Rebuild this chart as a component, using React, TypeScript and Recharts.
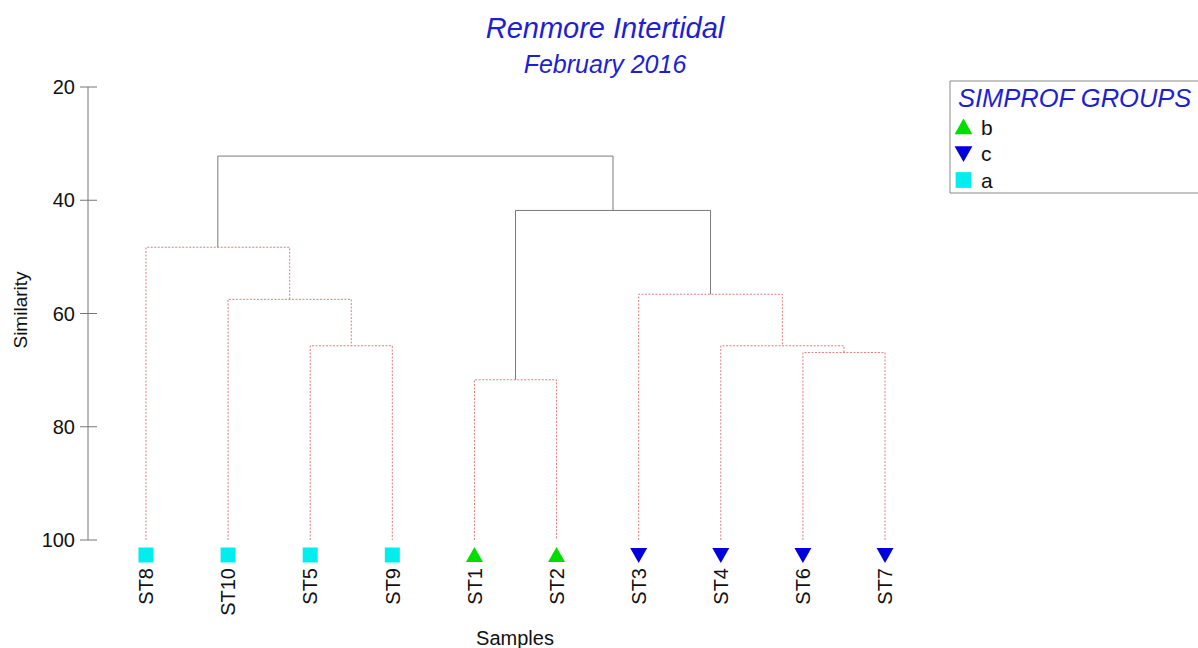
import { ComposedChart, Line, Scatter, XAxis, YAxis } from 'recharts';

// leaf order as drawn left to right
const leaves = ['ST8', 'ST10', 'ST5', 'ST9', 'ST1', 'ST2', 'ST3', 'ST4', 'ST6', 'ST7'];
const leafGroups = ['a', 'a', 'a', 'a', 'b', 'b', 'c', 'c', 'c', 'c'];

// merges: node ids 0-9 are leaves, merge k becomes node 10+k
const mergeLeft = [2, 1, 0, 4, 8, 7, 6, 13, 12];
const mergeRight = [3, 10, 11, 5, 9, 14, 15, 16, 17];
const mergeHeights = [65.7, 57.5, 48.3, 71.7, 66.9, 65.7, 56.6, 41.8, 32.2];
const mergeSignificant = [false, false, false, false, false, false, false, true, true];

const yTicks = [20, 40, 60, 80, 100];
const legendGroups = ['b', 'c', 'a'];

const groupColor: Record<string, string> = { a: '#00eeee', b: '#00dd00', c: '#0000dd' };
const FONT = '"Liberation Sans", Arial, sans-serif';
const TITLE_BLUE = '#1e1ed2';

// build node positions from the tree
const nodeX: number[] = leaves.map((_, i) => i);
const nodeH: number[] = leaves.map(() => 100);
mergeHeights.forEach((h, k) => {
  nodeX.push((nodeX[mergeLeft[k]] + nodeX[mergeRight[k]]) / 2);
  nodeH.push(h);
});

const segments = mergeHeights.map((h, k) => {
  const l = mergeLeft[k];
  const r = mergeRight[k];
  return [
    { x: nodeX[l], y: nodeH[l] },
    { x: nodeX[l], y: h },
    { x: nodeX[r], y: h },
    { x: nodeX[r], y: nodeH[r] },
  ];
});

const leafPoints = leaves.map((name, i) => ({ x: i, y: 100, name, group: leafGroups[i] }));

function marker(group: string, cx: number, cy: number, s = 1) {
  const fill = groupColor[group];
  if (group === 'a') return <rect x={cx - 7.5 * s} y={cy - 7.5 * s} width={15 * s} height={15 * s} fill={fill} />;
  if (group === 'b') return <polygon points={`${cx},${cy - 8 * s} ${cx - 8.5 * s},${cy + 7 * s} ${cx + 8.5 * s},${cy + 7 * s}`} fill={fill} />;
  return <polygon points={`${cx},${cy + 8 * s} ${cx - 8.5 * s},${cy - 7 * s} ${cx + 8.5 * s},${cy - 7 * s}`} fill={fill} />;
}

const LeafMarker = (props: any) => {
  const { cx, cy, payload } = props;
  return <g>{marker(payload.group, cx, cy + 15)}</g>;
};

const LeafTick = (props: any) => {
  const { x, y, payload } = props;
  return (
    <text x={x} y={y} dy="0.36em" transform={`rotate(-90, ${x}, ${y})`} textAnchor="end" fontSize={20} fontFamily={FONT} fill="#111">
      {leaves[payload.value]}
    </text>
  );
};

const SimTick = (props: any) => {
  const { x, y, payload } = props;
  return (
    <g>
      <line x1={x + 5} x2={x + 22} y1={y} y2={y} stroke="#777" />
      <text x={x} y={y} dy="0.36em" textAnchor="end" fontSize={20} fontFamily={FONT} fill="#111">
        {payload.value}
      </text>
    </g>
  );
};

export default function App() {
  return (
    <div style={{ position: 'relative', width: 1198, height: 648 }}>
      <style>{'body { margin: 0; }'}</style>
      <ComposedChart width={1198} height={648} margin={{ top: 87, right: 255, bottom: 0, left: 18 }}>
        <XAxis
          type="number"
          dataKey="x"
          domain={[-0.706, 9.706]}
          ticks={leaves.map((_, i) => i)}
          tick={<LeafTick />}
          axisLine={false}
          tickLine={false}
          tickSize={0}
          tickMargin={28}
          height={108}
        />
        <YAxis
          type="number"
          dataKey="y"
          reversed
          domain={[20, 100]}
          ticks={yTicks}
          tick={<SimTick />}
          tickLine={false}
          tickMargin={7}
          axisLine={{ stroke: '#777' }}
          width={70}
        />
        {segments.map((seg, k) => (
          <Line
            key={k}
            data={seg}
            dataKey="y"
            type="linear"
            stroke={mergeSignificant[k] ? '#7a7a7a' : '#dd7f7f'}
            strokeWidth={1}
            strokeDasharray={mergeSignificant[k] ? undefined : '2 1.5'}
            dot={false}
            activeDot={false}
            isAnimationActive={false}
          />
        ))}
        <Scatter data={leafPoints} dataKey="y" shape={<LeafMarker />} isAnimationActive={false} />
      </ComposedChart>

      <svg width={1198} height={648} style={{ position: 'absolute', left: 0, top: 0, pointerEvents: 'none' }}>
        <text x={605} y={38} textAnchor="middle" fontSize={29} fontStyle="italic" fontFamily={FONT} fill={TITLE_BLUE}>
          Renmore Intertidal
        </text>
        <text x={605} y={73} textAnchor="middle" fontSize={25} fontStyle="italic" fontFamily={FONT} fill={TITLE_BLUE}>
          February 2016
        </text>
        <text transform="translate(27, 310) rotate(-90)" textAnchor="middle" fontSize={19} fontFamily={FONT} fill="#111">
          Similarity
        </text>
        <text x={515} y={645} textAnchor="middle" fontSize={20} fontFamily={FONT} fill="#111">
          Samples
        </text>

        <path d="M1210,81 H950 V193 H1210" fill="#fff" stroke="#888" />
        <text x={958} y={107} fontSize={25.5} fontStyle="italic" fontFamily={FONT} fill={TITLE_BLUE}>
          SIMPROF GROUPS
        </text>
        {legendGroups.map((g, i) => (
          <g key={g}>
            {marker(g, 963.5, 127 + i * 26.5, 1.05)}
            <text x={981} y={127 + i * 26.5} dy="0.36em" fontSize={21} fontFamily={FONT} fill="#111">
              {g}
            </text>
          </g>
        ))}
      </svg>
    </div>
  );
}
